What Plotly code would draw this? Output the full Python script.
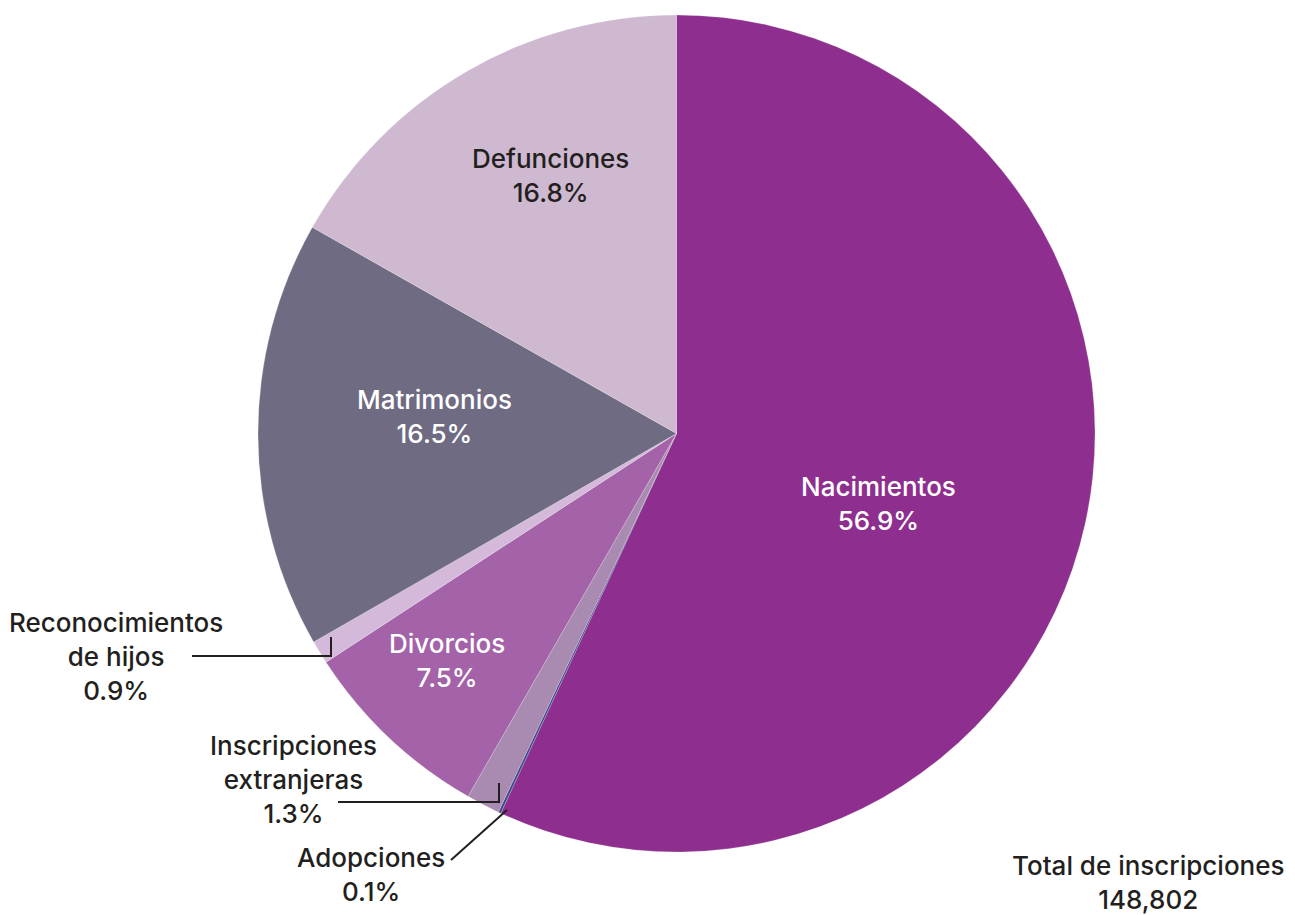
import plotly.graph_objects as go

# page body adds an 8px margin; figure drawn in reference pixel coordinates minus that offset
OFF = 8
W, H = 1295 - OFF, 915 - OFF

categories = ["Nacimientos", "Adopciones", "Inscripciones extranjeras", "Divorcios",
              "Reconocimientos de hijos", "Matrimonios", "Defunciones"]
percent = [56.9, 0.1, 1.3, 7.5, 0.9, 16.5, 16.8]
colors = ["#8E2F8F", "#3E4A8C", "#A98AB1", "#A462A8", "#D5B9DA", "#6F6B83", "#CEB9D0"]
label_text = ["Nacimientos<br>56.9%", "Adopciones<br>0.1%", "Inscripciones<br>extranjeras<br>1.3%",
              "Divorcios<br>7.5%", "Reconocimientos<br>de hijos<br>0.9%", "Matrimonios<br>16.5%",
              "Defunciones<br>16.8%"]
total_label = "Total de inscripciones<br>148,802"


def px(x, y):
    return (x - OFF) / W, 1 - (y - OFF) / H


FONT = "Inter"
DARK = "#231F20"
FS = 26

x0, y0 = px(258, 852)
x1, y1 = px(1095, 15)
fig = go.Figure(go.Pie(
    labels=categories,
    values=percent,
    sort=False,
    direction="clockwise",
    rotation=0,
    marker=dict(colors=colors, line=dict(color="rgba(255,255,255,0.4)", width=0.5)),
    textinfo="none",
    hoverinfo="label+percent",
    showlegend=False,
    domain=dict(x=[x0, x1], y=[y0, y1]),
))

label_pos = [(878, 503, "white"), (371, 874, DARK), (293, 779, DARK), (447, 660, "white"),
             (116, 656, DARK), (434, 417, "white"), (550, 175, DARK)]

annotations = []
for txt, (x, y, c) in zip(label_text, label_pos):
    ax, ay = px(x, y)
    annotations.append(dict(x=ax, y=ay, xref="paper", yref="paper", text=txt, showarrow=False,
                            xanchor="center", yanchor="middle", align="center",
                            font=dict(family=FONT, size=FS, color=c, weight=500)))
tx, ty = px(1148, 882)
annotations.append(dict(x=tx, y=ty, xref="paper", yref="paper", text=total_label, showarrow=False,
                        xanchor="center", yanchor="middle", align="center",
                        font=dict(family=FONT, size=FS, color=DARK, weight=500)))

line_style = dict(color=DARK, width=2)
paths = [
    [(192, 656), (331, 656), (331, 637)],
    [(338, 802), (499, 802), (499, 783)],
    [(451, 860), (507, 810)],
]
shapes = []
for p in paths:
    pts = [px(x, y) for x, y in p]
    d = "M " + " L ".join(f"{a},{b}" for a, b in pts)
    shapes.append(dict(type="path", path=d, xref="paper", yref="paper", line=line_style))

fig.update_layout(
    width=W, height=H,
    margin=dict(l=0, r=0, t=0, b=0),
    paper_bgcolor="white",
    plot_bgcolor="white",
    annotations=annotations,
    shapes=shapes,
)

fig.write_html("out.html")
